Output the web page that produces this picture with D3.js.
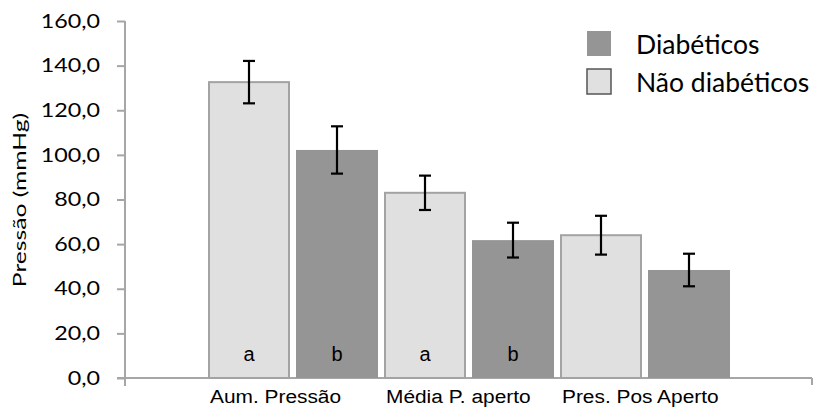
<!DOCTYPE html>
<html>
<head>
<meta charset="utf-8">
<script src="https://cdn.jsdelivr.net/npm/d3@7"></script>
<style>
  body { margin: 0; background: #fff; }
  .axis-line { stroke: #a6a6a6; stroke-width: 2; }
  .ylab { font-family: Lato, 'Open Sans', sans-serif; font-size: 18.5px; fill: #000; }
</style>
</head>
<body>
<svg width="814" height="407"></svg>
<script>
// Data
var categories = ["Aum. Pressão", "Média P. aperto", "Pres. Pos Aperto"];
var series = ["Não diabéticos", "Diabéticos"];
var naoDiabeticos = [132.6, 83.0, 64.0];
var naoDiabeticosErro = [9.5, 7.7, 8.7];
var diabeticos = [102.2, 61.8, 48.4];
var diabeticosErro = [10.6, 7.8, 7.3];
var naoLetras = ["a", "a", ""];
var diabLetras = ["b", "b", ""];
var yTicks = [0, 20, 40, 60, 80, 100, 120, 140, 160];
var legendOrder = ["Diabéticos", "Não diabéticos"];

var colors = { "Não diabéticos": "#e0e0e0", "Diabéticos": "#959595" };

var svg = d3.select("svg"),
    width = +svg.attr("width"),
    height = +svg.attr("height");

var rows = categories.map(function(c, i) {
  return { cat: c, values: [
    { s: "Não diabéticos", v: naoDiabeticos[i], e: naoDiabeticosErro[i], l: naoLetras[i] },
    { s: "Diabéticos", v: diabeticos[i], e: diabeticosErro[i], l: diabLetras[i] }
  ]};
});

// scales
var y = d3.scaleLinear().domain([0, 160]).range([378, 21]);
var x0 = d3.scaleBand().domain(categories).range([205, 733]);
var x1 = d3.scaleBand().domain(series).range([0, x0.bandwidth()])
    .paddingInner(6 / 88).paddingOuter(3 / 88);

var locale = d3.formatLocale({ decimal: ",", thousands: ".", grouping: [3], currency: ["R$", ""] });
var fmt = locale.format(".1f");

// y axis: tick marks from d3, labels drawn wide like the original
var yAxis = svg.append("g")
    .attr("transform", "translate(125,0)")
    .call(d3.axisLeft(y).tickValues(yTicks).tickFormat("").tickSize(8));
yAxis.select(".domain").remove();
yAxis.selectAll(".tick line").attr("stroke", "#a6a6a6").attr("stroke-width", 2);

svg.append("g").selectAll("text")
  .data(yTicks)
  .enter().append("text")
    .attr("class", "ylab")
    .attr("text-anchor", "end")
    .attr("dy", "0.36em")
    .attr("transform", function(d) { return "translate(100," + y(d) + ") scale(1.26,1)"; })
    .text(fmt);

svg.append("line").attr("class", "axis-line")
    .attr("x1", 125).attr("x2", 125).attr("y1", y(160)).attr("y2", 386);
svg.append("line").attr("class", "axis-line")
    .attr("x1", 117).attr("x2", 812).attr("y1", y(0)).attr("y2", y(0));
svg.append("line").attr("class", "axis-line")
    .attr("x1", 812).attr("x2", 812).attr("y1", y(0)).attr("y2", 385);

// y title
svg.append("text")
    .attr("transform", "translate(26,200) rotate(-90) scale(1.45,1)")
    .attr("text-anchor", "middle")
    .style("font-family", "Lato, 'Open Sans', sans-serif")
    .style("font-size", "17px")
    .text("Pressão (mmHg)");

// category labels (left aligned near each group)
svg.append("g").selectAll("text")
  .data(categories)
  .enter().append("text")
    .attr("transform", function(d) { return "translate(" + (x0(d) + 5) + ",403) scale(1.16,1)"; })
    .style("font-family", "'Liberation Sans', Arial, sans-serif")
    .style("font-size", "18px")
    .text(function(d) { return d; });

// bars
var groups = svg.append("g").selectAll("g")
  .data(rows)
  .enter().append("g")
    .attr("transform", function(d) { return "translate(" + x0(d.cat) + ",0)"; });

groups.selectAll("rect")
  .data(function(d) { return d.values; })
  .enter().append("rect")
    .attr("x", function(d) { return d.s === "Diabéticos" ? x1(d.s) : x1(d.s) + 1; })
    .attr("width", function(d) { return d.s === "Diabéticos" ? x1.bandwidth() : x1.bandwidth() - 2; })
    .attr("y", function(d) { return y(d.v); })
    .attr("height", function(d) { return y(0) - y(d.v); })
    .attr("fill", function(d) { return colors[d.s]; })
    .attr("stroke", function(d) { return d.s === "Diabéticos" ? "none" : "#a3a3a3"; })
    .attr("stroke-width", 2);

// error bars
var err = groups.selectAll("g.err")
  .data(function(d) { return d.values; })
  .enter().append("g")
    .attr("class", "err")
    .attr("transform", function(d) { return "translate(" + (x1(d.s) + x1.bandwidth() / 2) + ",0)"; })
    .attr("stroke", "#000")
    .attr("stroke-width", 2.2);
err.append("line")
    .attr("y1", function(d) { return y(d.v + d.e); })
    .attr("y2", function(d) { return y(d.v - d.e); });
err.append("line")
    .attr("x1", -6).attr("x2", 6)
    .attr("y1", function(d) { return y(d.v + d.e); })
    .attr("y2", function(d) { return y(d.v + d.e); });
err.append("line")
    .attr("x1", -6).attr("x2", 6)
    .attr("y1", function(d) { return y(d.v - d.e); })
    .attr("y2", function(d) { return y(d.v - d.e); });

// significance letters
groups.selectAll("text.letter")
  .data(function(d) { return d.values; })
  .enter().append("text")
    .attr("class", "letter")
    .attr("x", function(d) { return x1(d.s) + x1.bandwidth() / 2; })
    .attr("y", y(7.6))
    .attr("text-anchor", "middle")
    .style("font-family", "'Liberation Sans', Arial, sans-serif")
    .style("font-size", "20px")
    .text(function(d) { return d.l; });

// legend
var legend = svg.append("g").selectAll("g")
  .data(legendOrder)
  .enter().append("g")
    .attr("transform", function(d, i) { return "translate(587," + (31 + i * 38) + ")"; });
legend.append("rect")
    .attr("width", 24).attr("height", 25)
    .attr("fill", function(d) { return colors[d]; })
    .attr("stroke", function(d) { return d === "Diabéticos" ? "none" : "#555"; })
    .attr("stroke-width", 1.5);
legend.append("text")
    .attr("x", 49)
    .attr("y", 23)
    .style("font-family", "Lato, 'Open Sans', sans-serif")
    .style("font-size", "26.5px")
    .text(function(d) { return d; });
</script>
</body>
</html>
